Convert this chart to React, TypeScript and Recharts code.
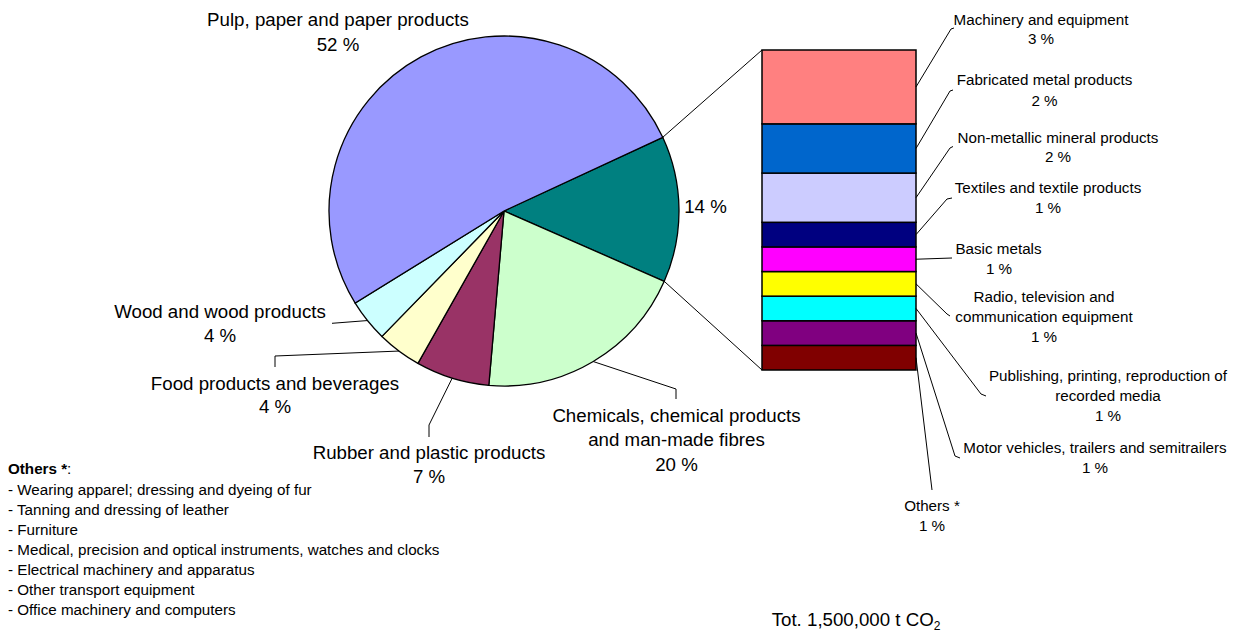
import React from 'react';
import { PieChart, Pie, Cell, BarChart, Bar, XAxis, YAxis } from 'recharts';

// ---------------- DATA ----------------
const pieSectors = [
  'Other sectors (breakdown at right)',
  'Chemicals, chemical products\nand man-made fibres',
  'Rubber and plastic products',
  'Food products and beverages',
  'Wood and wood products',
  'Pulp, paper and paper products',
];
const pieValues = [13.5, 19.8, 6.8, 4.1, 3.9, 51.9];
const piePercentLabels = ['14 %', '20 %', '7 %', '4 %', '4 %', '52 %'];

// stacked bottom -> top
const barSectors = [
  'Others *',
  'Motor vehicles, trailers and semitrailers',
  'Publishing, printing, reproduction of\nrecorded media',
  'Radio, television and\ncommunication equipment',
  'Basic metals',
  'Textiles and textile products',
  'Non-metallic mineral products',
  'Fabricated metal products',
  'Machinery and equipment',
];
const barValues = [1, 1, 1, 1, 1, 1, 2, 2, 3];
const barPercentLabels = ['1 %', '1 %', '1 %', '1 %', '1 %', '1 %', '2 %', '2 %', '3 %'];

const othersTitle = 'Others *';
const othersList = [
  '- Wearing apparel; dressing and dyeing of fur',
  '- Tanning and dressing of leather',
  '- Furniture',
  '- Medical, precision and optical instruments, watches and clocks',
  '- Electrical machinery and apparatus',
  '- Other transport equipment',
  '- Office machinery and computers',
];
const totalLabel = 'Tot. 1,500,000 t CO';
const totalSub = '2';

// ---------------- LAYOUT / STYLE ----------------
const W = 1239;
const H = 633;
const FONT = '"Liberation Sans", Arial, Helvetica, sans-serif';
const BIG = 18.7;
const SMALL = 15.2;
const PIE_CX = 504;
const PIE_CY = 211;
const PIE_R = 175;
const PIE_START = 24.9;
const BAR_LEFT = 762;
const BAR_RIGHT = 916;
const BAR_TOP = 50;
const BAR_BOTTOM = 370;

const pieColors = ['#008080', '#CCFFCC', '#993366', '#FFFFCC', '#CCFFFF', '#9999FF'];
const barColors = ['#800000', '#800080', '#00FFFF', '#FFFF00', '#FF00FF', '#000080', '#CCCCFF', '#0066CC', '#FF8080'];

type LabelLayout = { x: number | number[]; ys: number[]; path: number[][] | null; showName: boolean };

const pieLabelLayout: LabelLayout[] = [
  { x: 705.5, ys: [206.7], path: null, showName: false },
  { x: 676.5, ys: [415, 439, 464], path: [[676, 389], [676, 399]], showName: true },
  { x: 429, ys: [452, 476], path: [[429, 425], [429, 437]], showName: true },
  { x: 275, ys: [383.3, 406], path: [[275, 356], [275, 367]], showName: true },
  { x: 220, ys: [311, 335], path: [[332, 323.3]], showName: true },
  { x: 338, ys: [19.3, 44.5], path: null, showName: true },
];

const barLabelLayout: LabelLayout[] = [
  { x: 932, ys: [505.3, 525.5], path: [[932, 490]], showName: true },
  { x: 1095, ys: [447.5, 468], path: [[955, 456], [960, 458]], showName: true },
  { x: 1108, ys: [376, 396, 415.5], path: [[981, 394], [986, 396]], showName: true },
  { x: 1044, ys: [296.7, 316.5, 337], path: [[947, 314], [950, 316]], showName: true },
  { x: [998.5, 999], ys: [248.7, 268.7], path: [[952, 258]], showName: true },
  { x: 1048, ys: [187.5, 207.5], path: [[947, 199], [952, 198]], showName: true },
  { x: 1058, ys: [137.5, 157], path: [[950, 148], [953, 146.5]], showName: true },
  { x: 1044.5, ys: [80, 100.5], path: [[950, 91], [953, 90]], showName: true },
  { x: 1041, ys: [19.2, 38.8], path: [[951, 29], [954, 28]], showName: true },
];

const pieData = pieSectors.map((name, i) => ({ name, value: pieValues[i] }));
const barRow: Record<string, number | string> = { name: 'Other sectors' };
barSectors.forEach((_, i) => {
  barRow['s' + i] = barValues[i];
});
const barData = [barRow];
const barTotal = barValues.reduce((a, b) => a + b, 0);

const RAD = Math.PI / 180;
const polar = (cx: number, cy: number, r: number, a: number) => [cx + r * Math.cos(-a * RAD), cy + r * Math.sin(-a * RAD)];

const renderLines = (lines: string[], L: LabelLayout, size: number) =>
  lines.map((t, k) => {
    const x = Array.isArray(L.x) ? L.x[k] : L.x;
    return (
      <text key={k} x={x} y={L.ys[k] + size * 0.358} textAnchor="middle" fontFamily={FONT} fontSize={size} fill="#000">
        {t}
      </text>
    );
  });

const renderPieLabel = (p: any) => {
  const { cx, cy, midAngle, outerRadius, startAngle, endAngle, index } = p;
  const L = pieLabelLayout[index];
  const lines = L.showName
    ? [...pieSectors[index].split('\n'), piePercentLabels[index]]
    : [piePercentLabels[index]];
  const edge = polar(cx, cy, outerRadius, midAngle);
  const pts = L.path ? [edge, ...L.path] : null;
  let connectors = null;
  if (index === 0) {
    const a = polar(cx, cy, outerRadius, startAngle);
    const b = polar(cx, cy, outerRadius, endAngle);
    connectors = (
      <g>
        <line x1={a[0]} y1={a[1]} x2={BAR_LEFT} y2={BAR_TOP} stroke="#000" strokeWidth={1} />
        <line x1={b[0]} y1={b[1]} x2={BAR_LEFT} y2={BAR_BOTTOM} stroke="#000" strokeWidth={1} />
      </g>
    );
  }
  return (
    <g key={'pl' + index}>
      {connectors}
      {pts && <polyline points={pts.map((q) => q.join(',')).join(' ')} fill="none" stroke="#000" strokeWidth={1} />}
      {renderLines(lines, L, BIG)}
    </g>
  );
};

const makeBarShape = (i: number) => (p: any) => {
  const { x, y, width, height } = p;
  const L = barLabelLayout[i];
  const start = [x + width, y + height / 2];
  const pts = [start, ...(L.path || [])];
  const lines = [...barSectors[i].split('\n'), barPercentLabels[i]];
  return (
    <g>
      <rect x={x} y={y} width={width} height={height} fill={barColors[i]} stroke="#000" strokeWidth={1.5} />
      <polyline points={pts.map((q) => q.join(',')).join(' ')} fill="none" stroke="#000" strokeWidth={1} />
      {renderLines(lines, L, SMALL)}
    </g>
  );
};

export default function App() {
  return (
    <div style={{ position: 'absolute', left: 0, top: 0, width: W, height: H, background: '#fff' }}>
      <div style={{ position: 'absolute', left: 0, top: 0 }}>
        <PieChart width={W} height={H} margin={{ top: 0, right: 0, bottom: 0, left: 0 }}>
          <Pie
            data={pieData}
            dataKey="value"
            nameKey="name"
            cx={PIE_CX}
            cy={PIE_CY}
            outerRadius={PIE_R}
            startAngle={PIE_START}
            endAngle={PIE_START - 360}
            stroke="#000"
            strokeWidth={1.3}
            label={renderPieLabel}
            labelLine={false}
            isAnimationActive={false}
          >
            {pieData.map((_, i) => (
              <Cell key={i} fill={pieColors[i]} stroke="#000" strokeWidth={1.3} />
            ))}
          </Pie>
        </PieChart>
      </div>
      <div style={{ position: 'absolute', left: 0, top: 0 }}>
        <BarChart
          width={W}
          height={H}
          data={barData}
          margin={{ top: BAR_TOP, right: W - BAR_RIGHT, bottom: H - BAR_BOTTOM, left: BAR_LEFT }}
          barCategoryGap={0}
          barGap={0}
        >
          <XAxis dataKey="name" hide />
          <YAxis hide domain={[0, barTotal]} />
          {barSectors.map((_, i) => (
            <Bar key={i} dataKey={'s' + i} stackId="a" fill={barColors[i]} shape={makeBarShape(i)} isAnimationActive={false} />
          ))}
        </BarChart>
      </div>
      <svg width={W} height={H} style={{ position: 'absolute', left: 0, top: 0, pointerEvents: 'none' }}>
        <text x={8} y={474} fontFamily={FONT} fontSize={SMALL} fill="#000">
          <tspan fontWeight="bold">{othersTitle}</tspan>
          <tspan>:</tspan>
        </text>
        {othersList.map((t, k) => (
          <text key={k} x={8} y={495 + k * 20} fontFamily={FONT} fontSize={SMALL} fill="#000">
            {t}
          </text>
        ))}
        <text x={771.7} y={626} fontFamily={FONT} fontSize={BIG} fill="#000">
          {totalLabel}
          <tspan fontSize={12} dy={4}>{totalSub}</tspan>
        </text>
      </svg>
    </div>
  );
}
